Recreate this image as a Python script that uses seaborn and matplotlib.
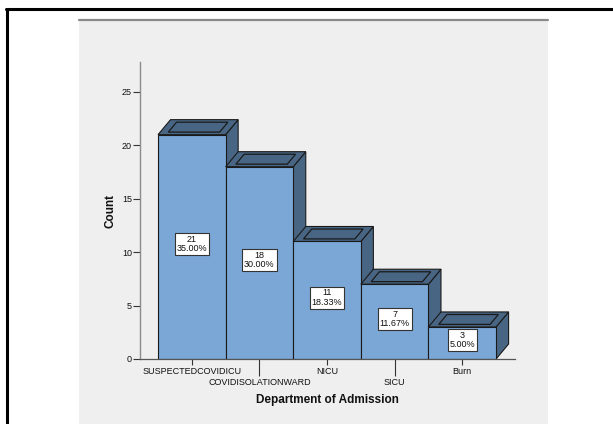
import matplotlib
matplotlib.use("Agg")
import matplotlib.pyplot as plt
from matplotlib.patches import Polygon, Rectangle
from matplotlib.lines import Line2D
import seaborn as sns
import pandas as pd

departments = ["SUSPECTEDCOVIDICU", "COVIDISOLATIONWARD", "NICU", "SICU", "Burn"]
counts = [21, 18, 11, 7, 3]
y_ticks = [0, 5, 10, 15, 20, 25]

FRONT = "#7ba7d6"
DARK = "#486684"
EDGE = "#1a1a1a"
FONT = ["Liberation Sans", "DejaVu Sans"]
SMALL = 6.5

sns.set_theme(style="white")
plt.rcParams["font.family"] = FONT

W, H = 613, 424
fig = plt.figure(figsize=(W / 100, H / 100), dpi=100)
fig.patch.set_facecolor("white")

def fx(px):
    return px / W

def fy(py):
    return 1 - py / H

# chart panel and its frame
fig.add_artist(Rectangle((fx(79), 0), fx(548) - fx(79), fy(20), transform=fig.transFigure,
                         facecolor="#efefef", edgecolor="none", zorder=0))
fig.add_artist(Line2D([fx(79), fx(548)], [fy(20), fy(20)], transform=fig.transFigure,
                      color="#8a8a8a", lw=1.6, zorder=1))
fig.add_artist(Line2D([fx(6), 1], [fy(9), fy(9)], transform=fig.transFigure,
                      color="black", lw=2.2, zorder=1))
fig.add_artist(Line2D([fx(6.5), fx(6.5)], [fy(9), 0], transform=fig.transFigure,
                      color="black", lw=2.2, zorder=1))

ax = fig.add_axes([fx(140), fy(359), fx(515) - fx(140), fy(62) - fy(359)])
ax.set_facecolor("none")

df = pd.DataFrame({"Department": departments, "Count": counts})
sns.barplot(data=df, x="Department", y="Count", order=departments, ax=ax,
            width=1.0, color=FRONT, saturation=1, edgecolor=EDGE, linewidth=0.8)

ax.set_xlim(-0.767, 4.78)
ax.set_ylim(0, 27.8)

# depth of the 3D extrusion, converted from pixels to data units
fig.canvas.draw()
origin = ax.transData.transform((0, 0))
back = ax.transData.inverted().transform(origin + [12.5, 15])
ddx, ddy = back[0], back[1]

total = sum(counts)
for i, bar in enumerate(ax.patches):
    x0 = bar.get_x()
    w = bar.get_width()
    x1 = x0 + w
    h = bar.get_height()
    z = 2 + 3 * i
    side = Polygon([(x1, 0), (x1, h), (x1 + ddx, h + ddy), (x1 + ddx, ddy)],
                   closed=True, facecolor=DARK, edgecolor=EDGE, lw=0.8,
                   zorder=z, clip_on=False)
    top = Polygon([(x0, h), (x1, h), (x1 + ddx, h + ddy), (x0 + ddx, h + ddy)],
                  closed=True, facecolor=DARK, edgecolor=EDGE, lw=0.8,
                  zorder=z + 0.5, clip_on=False, joinstyle="miter")
    ax.add_patch(side)
    ax.add_patch(top)
    # recessed inner rim on the top face
    u0, u1, v0, v1 = 0.12, 0.88, 0.17, 0.83
    inner = [(x0 + u * w + v * ddx, h + v * ddy) for u, v in
             [(u0, v0), (u1, v0), (u1, v1), (u0, v1)]]
    ax.add_patch(Polygon(inner, closed=True, facecolor="none", edgecolor=EDGE,
                         lw=0.9, zorder=z + 0.6, clip_on=False))
    bar.set_zorder(z + 1)
    pct = 100 * counts[i] / total
    ax.text(x0 + w / 2, h / 2 + 0.25, f"{counts[i]}\n{pct:.2f}%",
            ha="center", va="center", fontsize=SMALL, color="#111111",
            linespacing=1.05, zorder=50,
            bbox=dict(boxstyle="square,pad=0.2", fc="white", ec="#333333", lw=0.8))

# staggered category labels: even positions on major ticks, odd on long minor ticks
positions = list(range(len(departments)))
ax.set_xticks(positions[0::2])
ax.set_xticklabels(departments[0::2])
ax.set_xticks(positions[1::2], minor=True)
ax.set_xticklabels(departments[1::2], minor=True)
ax.tick_params(axis="x", which="major", length=4.5, width=0.8, color="#333333",
               pad=1.3, labelsize=SMALL, labelcolor="#111111", bottom=True)
ax.tick_params(axis="x", which="minor", length=12.5, width=0.8, color="#333333",
               pad=1.3, labelsize=SMALL, labelcolor="#111111", bottom=True)

ax.set_yticks(y_ticks)
ax.tick_params(axis="y", length=4.8, width=0.8, color="#333333", pad=1,
               labelsize=SMALL, labelcolor="#111111", left=True)

for side_name in ["top", "right"]:
    ax.spines[side_name].set_visible(False)
ax.spines["left"].set_color("#8c8c8c")
ax.spines["left"].set_linewidth(1.0)
ax.spines["bottom"].set_color("#555555")
ax.spines["bottom"].set_linewidth(0.9)
ax.spines["bottom"].set_zorder(100)

ax.set_xlabel("Department of Admission", fontsize=8.5, fontweight="bold",
              color="#111111")
ax.set_ylabel("Count", fontsize=8.5, fontweight="bold", color="#111111")
ax.xaxis.set_label_coords((327 - 140) / 375, -(400 - 359) / 297)
ax.xaxis.label.set_va("center")
ax.yaxis.set_label_coords((110 - 140) / 375, 0.5)
ax.yaxis.label.set_va("center")

fig.savefig("out.png", dpi=100, facecolor="white")
